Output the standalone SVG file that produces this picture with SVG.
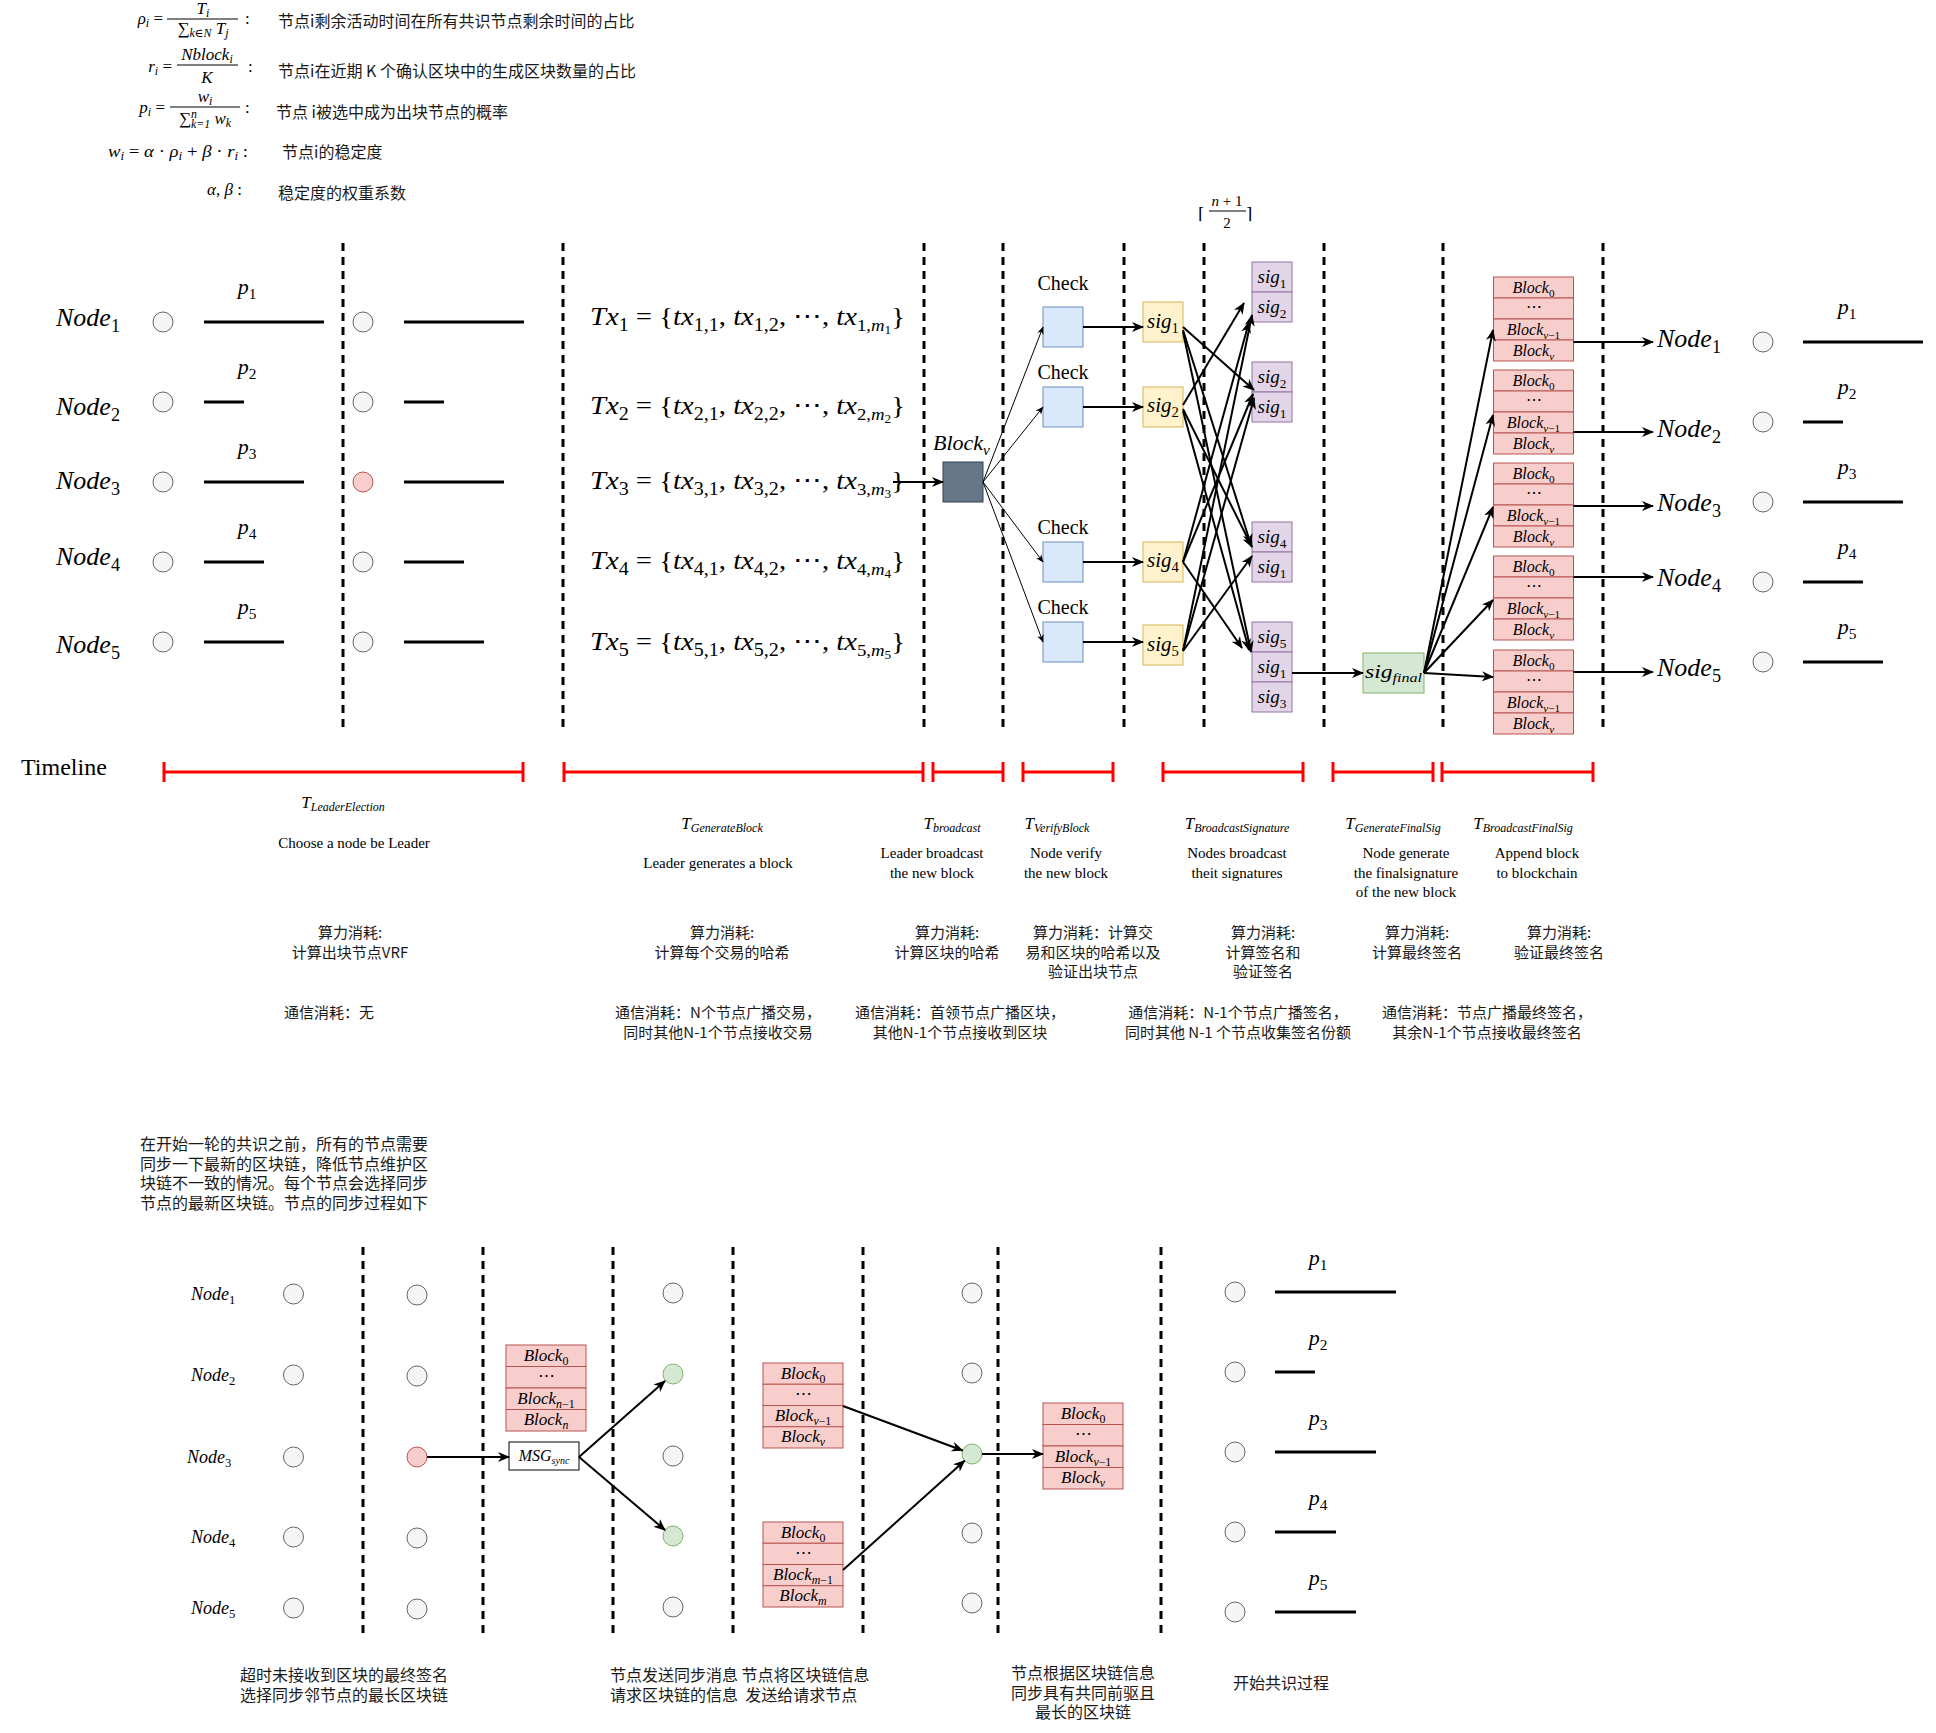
<svg xmlns="http://www.w3.org/2000/svg" width="1936" height="1733" viewBox="0 0 1936 1733">
<defs>
<marker id="ah" viewBox="0 0 12 10" refX="11" refY="5" markerWidth="12" markerHeight="10" markerUnits="userSpaceOnUse" orient="auto"><path d="M0,0 L12,5 L0,10 L3.5,5 Z" fill="#000"/></marker>
<marker id="ah1" viewBox="0 0 12 10" refX="11" refY="5" markerWidth="8" markerHeight="7" markerUnits="userSpaceOnUse" orient="auto"><path d="M0,0 L12,5 L0,10 L3.5,5 Z" fill="#000"/></marker>
<style>
.m{font-family:"Liberation Serif","DejaVu Serif",serif;font-style:italic;fill:#000}
.r{font-family:"Liberation Serif","DejaVu Serif",serif;fill:#000}
.cn{font-family:"Noto Sans CJK SC","Liberation Sans",sans-serif;fill:#1a1a1a}
.u{font-style:normal}
.s{font-size:70%;font-style:normal}
.si{font-size:70%}
.c{text-anchor:middle}
.dash{stroke:#000;stroke-width:3;stroke-dasharray:8 6;fill:none}
.nd{fill:#f5f5f5;stroke:#666;stroke-width:1}
.nr{fill:#f8cecc;stroke:#b85450;stroke-width:1}
.ng{fill:#d5e8d4;stroke:#82b366;stroke-width:1}
.bar{stroke:#000;stroke-width:3}
.blk{fill:#f8cecc;stroke:#b85450;stroke-width:1}
.chk{fill:#dae8fc;stroke:#6c8ebf;stroke-width:1}
.sg{fill:#fff2cc;stroke:#d6b656;stroke-width:1}
.ps{fill:#e1d5e7;stroke:#9673a6;stroke-width:1}
.e2{stroke:#000;stroke-width:2;fill:none;marker-end:url(#ah)}
.e1{stroke:#000;stroke-width:1;fill:none;marker-end:url(#ah1)}
.tl{stroke:#ff0000;stroke-width:3;fill:none}
</style>
</defs>
<rect x="0" y="0" width="1936" height="1733" fill="#fff"/>

<!-- Formulas -->
<g id="formulas" font-size="17">
 <text class="m" x="163" y="24" text-anchor="end">ρ<tspan class="si" dy="3">i</tspan><tspan class="u" dy="-3"> =</tspan></text>
 <text class="m c" x="203" y="14">T<tspan class="si" dy="3">i</tspan></text>
 <line x1="167" y1="19" x2="238" y2="19" stroke="#000" stroke-width="1"/>
 <text class="m c" x="203" y="34"><tspan class="u">∑</tspan><tspan class="si" dy="3">k∈N</tspan><tspan dy="-3"> T</tspan><tspan class="si" dy="3">j</tspan></text>
 <text class="r" x="245" y="24">:</text>
 <text class="cn" x="278" y="27" font-size="16">节点i剩余活动时间在所有共识节点剩余时间的占比</text>

 <text class="m" x="172" y="72" text-anchor="end">r<tspan class="si" dy="3">i</tspan><tspan class="u" dy="-3"> =</tspan></text>
 <text class="m c" x="207" y="60">Nblock<tspan class="si" dy="3">i</tspan></text>
 <line x1="177" y1="65" x2="238" y2="65" stroke="#000" stroke-width="1"/>
 <text class="m c" x="207" y="83">K</text>
 <text class="r" x="248" y="72">:</text>
 <text class="cn" x="278" y="77" font-size="16">节点i在近期 K 个确认区块中的生成区块数量的占比</text>

 <text class="m" x="165" y="113" text-anchor="end">p<tspan class="si" dy="3">i</tspan><tspan class="u" dy="-3"> =</tspan></text>
 <text class="m c" x="205" y="102">w<tspan class="si" dy="3">i</tspan></text>
 <line x1="170" y1="107" x2="240" y2="107" stroke="#000" stroke-width="1"/>
 <text class="m c" x="205" y="124"><tspan class="u">∑</tspan><tspan class="si" dy="-6">n</tspan><tspan class="si" dx="-6" dy="10">k=1</tspan><tspan dy="-4"> w</tspan><tspan class="si" dy="3">k</tspan></text>
 <text class="r" x="245" y="113">:</text>
 <text class="cn" x="276" y="118" font-size="16">节点 i被选中成为出块节点的概率</text>

 <text class="m" x="108" y="157" textLength="140" lengthAdjust="spacingAndGlyphs">w<tspan class="si" dy="3">i</tspan><tspan class="u" dy="-3"> = </tspan>α<tspan class="u"> · </tspan>ρ<tspan class="si" dy="3">i</tspan><tspan class="u" dy="-3"> + </tspan>β<tspan class="u"> · </tspan>r<tspan class="si" dy="3">i</tspan><tspan class="u" dy="-3"> :</tspan></text>
 <text class="cn" x="282" y="158" font-size="16">节点i的稳定度</text>

 <text class="m" x="207" y="195">α<tspan class="u">, </tspan>β<tspan class="u"> :</tspan></text>
 <text class="cn" x="278" y="199" font-size="16">稳定度的权重系数</text>
</g>

<!-- Upper dashed separators -->
<g id="upper-separators">
 <line class="dash" x1="343" y1="243" x2="343" y2="733"/>
 <line class="dash" x1="563" y1="243" x2="563" y2="733"/>
 <line class="dash" x1="924" y1="243" x2="924" y2="733"/>
 <line class="dash" x1="1003" y1="243" x2="1003" y2="733"/>
 <line class="dash" x1="1124" y1="243" x2="1124" y2="733"/>
 <line class="dash" x1="1204" y1="243" x2="1204" y2="733"/>
 <line class="dash" x1="1324" y1="243" x2="1324" y2="733"/>
 <line class="dash" x1="1443" y1="243" x2="1443" y2="733"/>
 <line class="dash" x1="1603" y1="243" x2="1603" y2="733"/>
</g>

<!-- Upper left nodes -->
<g id="upper-node-labels" font-size="26">
 <text class="m" x="56" y="326">Node<tspan class="s" dy="6">1</tspan></text>
 <text class="m" x="56" y="415">Node<tspan class="s" dy="6">2</tspan></text>
 <text class="m" x="56" y="489">Node<tspan class="s" dy="6">3</tspan></text>
 <text class="m" x="56" y="565">Node<tspan class="s" dy="6">4</tspan></text>
 <text class="m" x="56" y="653">Node<tspan class="s" dy="6">5</tspan></text>
</g>
<g id="upper-col1">
 <circle class="nd" cx="163" cy="322" r="10"/>
 <circle class="nd" cx="163" cy="402" r="10"/>
 <circle class="nd" cx="163" cy="482" r="10"/>
 <circle class="nd" cx="163" cy="562" r="10"/>
 <circle class="nd" cx="163" cy="642" r="10"/>
 <line class="bar" x1="204" y1="322" x2="324" y2="322"/>
 <line class="bar" x1="204" y1="402" x2="244" y2="402"/>
 <line class="bar" x1="204" y1="482" x2="304" y2="482"/>
 <line class="bar" x1="204" y1="562" x2="264" y2="562"/>
 <line class="bar" x1="204" y1="642" x2="284" y2="642"/>
 <g font-size="22">
  <text class="m c" x="247" y="294">p<tspan class="s" dy="5">1</tspan></text>
  <text class="m c" x="247" y="374">p<tspan class="s" dy="5">2</tspan></text>
  <text class="m c" x="247" y="454">p<tspan class="s" dy="5">3</tspan></text>
  <text class="m c" x="247" y="534">p<tspan class="s" dy="5">4</tspan></text>
  <text class="m c" x="247" y="614">p<tspan class="s" dy="5">5</tspan></text>
 </g>
</g>
<g id="upper-col2">
 <circle class="nd" cx="363" cy="322" r="10"/>
 <circle class="nd" cx="363" cy="402" r="10"/>
 <circle class="nr" cx="363" cy="482" r="10"/>
 <circle class="nd" cx="363" cy="562" r="10"/>
 <circle class="nd" cx="363" cy="642" r="10"/>
 <line class="bar" x1="404" y1="322" x2="524" y2="322"/>
 <line class="bar" x1="404" y1="402" x2="444" y2="402"/>
 <line class="bar" x1="404" y1="482" x2="504" y2="482"/>
 <line class="bar" x1="404" y1="562" x2="464" y2="562"/>
 <line class="bar" x1="404" y1="642" x2="484" y2="642"/>
</g>

<!-- Transactions -->
<g id="transactions" font-size="26">
 <text class="m" x="590" y="325" textLength="315" lengthAdjust="spacingAndGlyphs">Tx<tspan class="s" dy="6">1</tspan><tspan class="u" dy="-6"> = {</tspan>tx<tspan class="s" dy="6">1,1</tspan><tspan class="u" dy="-6">, </tspan>tx<tspan class="s" dy="6">1,2</tspan><tspan class="u" dy="-6">, ⋯, </tspan>tx<tspan class="u" font-size="17" dy="6">1,</tspan><tspan font-size="17">m</tspan><tspan class="u" font-size="12" dy="3">1</tspan><tspan class="u" dy="-9">}</tspan></text>
 <text class="m" x="590" y="414" textLength="315" lengthAdjust="spacingAndGlyphs">Tx<tspan class="s" dy="6">2</tspan><tspan class="u" dy="-6"> = {</tspan>tx<tspan class="s" dy="6">2,1</tspan><tspan class="u" dy="-6">, </tspan>tx<tspan class="s" dy="6">2,2</tspan><tspan class="u" dy="-6">, ⋯, </tspan>tx<tspan class="u" font-size="17" dy="6">2,</tspan><tspan font-size="17">m</tspan><tspan class="u" font-size="12" dy="3">2</tspan><tspan class="u" dy="-9">}</tspan></text>
 <text class="m" x="590" y="489" textLength="315" lengthAdjust="spacingAndGlyphs">Tx<tspan class="s" dy="6">3</tspan><tspan class="u" dy="-6"> = {</tspan>tx<tspan class="s" dy="6">3,1</tspan><tspan class="u" dy="-6">, </tspan>tx<tspan class="s" dy="6">3,2</tspan><tspan class="u" dy="-6">, ⋯, </tspan>tx<tspan class="u" font-size="17" dy="6">3,</tspan><tspan font-size="17">m</tspan><tspan class="u" font-size="12" dy="3">3</tspan><tspan class="u" dy="-9">}</tspan></text>
 <text class="m" x="590" y="569" textLength="315" lengthAdjust="spacingAndGlyphs">Tx<tspan class="s" dy="6">4</tspan><tspan class="u" dy="-6"> = {</tspan>tx<tspan class="s" dy="6">4,1</tspan><tspan class="u" dy="-6">, </tspan>tx<tspan class="s" dy="6">4,2</tspan><tspan class="u" dy="-6">, ⋯, </tspan>tx<tspan class="u" font-size="17" dy="6">4,</tspan><tspan font-size="17">m</tspan><tspan class="u" font-size="12" dy="3">4</tspan><tspan class="u" dy="-9">}</tspan></text>
 <text class="m" x="590" y="650" textLength="315" lengthAdjust="spacingAndGlyphs">Tx<tspan class="s" dy="6">5</tspan><tspan class="u" dy="-6"> = {</tspan>tx<tspan class="s" dy="6">5,1</tspan><tspan class="u" dy="-6">, </tspan>tx<tspan class="s" dy="6">5,2</tspan><tspan class="u" dy="-6">, ⋯, </tspan>tx<tspan class="u" font-size="17" dy="6">5,</tspan><tspan font-size="17">m</tspan><tspan class="u" font-size="12" dy="3">5</tspan><tspan class="u" dy="-9">}</tspan></text>
</g>

<!-- Block v -->
<g id="block-v">
 <rect x="943" y="462" width="40" height="40" fill="#647687" stroke="#314354" stroke-width="1"/>
 <text class="m" x="933" y="450" font-size="22">Block<tspan class="si" dy="5">v</tspan></text>
</g>

<!-- Check boxes -->
<g id="checks">
 <g font-size="20">
  <text class="r c" x="1063" y="290">Check</text>
  <text class="r c" x="1063" y="379">Check</text>
  <text class="r c" x="1063" y="534">Check</text>
  <text class="r c" x="1063" y="614">Check</text>
 </g>
 <rect class="chk" x="1043" y="307" width="40" height="40"/>
 <rect class="chk" x="1043" y="387" width="40" height="40"/>
 <rect class="chk" x="1043" y="542" width="40" height="40"/>
 <rect class="chk" x="1043" y="622" width="40" height="40"/>
</g>

<!-- Signature boxes -->
<g id="signatures" font-size="21">
 <rect class="sg" x="1143" y="302" width="40" height="40"/>
 <text class="m c" x="1163" y="328">sig<tspan class="s" dy="5">1</tspan></text>
 <rect class="sg" x="1143" y="387" width="40" height="40"/>
 <text class="m c" x="1163" y="412">sig<tspan class="s" dy="5">2</tspan></text>
 <rect class="sg" x="1143" y="542" width="40" height="40"/>
 <text class="m c" x="1163" y="567">sig<tspan class="s" dy="5">4</tspan></text>
 <rect class="sg" x="1143" y="625" width="40" height="40"/>
 <text class="m c" x="1163" y="651">sig<tspan class="s" dy="5">5</tspan></text>
</g>

<!-- Threshold label -->
<g id="threshold">
 <text class="r" x="1198" y="219" font-size="16" font-family="DejaVu Serif">⌈</text>
 <text class="m c" x="1227" y="206" font-size="15">n<tspan class="u"> + 1</tspan></text>
 <line x1="1209" y1="211" x2="1246" y2="211" stroke="#000" stroke-width="1"/>
 <text class="r c" x="1227" y="228" font-size="15">2</text>
 <text class="r" x="1246" y="219" font-size="16" font-family="DejaVu Serif">⌉</text>
</g>

<!-- Collected signature groups -->
<g id="sig-group-1" font-size="19">
 <rect class="ps" x="1252" y="262" width="40" height="30"/>
 <rect class="ps" x="1252" y="292" width="40" height="30"/>
 <text class="m c" x="1272" y="283">sig<tspan class="s" dy="5">1</tspan></text>
 <text class="m c" x="1272" y="313">sig<tspan class="s" dy="5">2</tspan></text>
</g>
<g id="sig-group-2" font-size="19">
 <rect class="ps" x="1252" y="362" width="40" height="30"/>
 <rect class="ps" x="1252" y="392" width="40" height="30"/>
 <text class="m c" x="1272" y="383">sig<tspan class="s" dy="5">2</tspan></text>
 <text class="m c" x="1272" y="413">sig<tspan class="s" dy="5">1</tspan></text>
</g>
<g id="sig-group-4" font-size="19">
 <rect class="ps" x="1252" y="522" width="40" height="30"/>
 <rect class="ps" x="1252" y="552" width="40" height="30"/>
 <text class="m c" x="1272" y="543">sig<tspan class="s" dy="5">4</tspan></text>
 <text class="m c" x="1272" y="573">sig<tspan class="s" dy="5">1</tspan></text>
</g>
<g id="sig-group-5" font-size="19">
 <rect class="ps" x="1252" y="622" width="40" height="30"/>
 <rect class="ps" x="1252" y="652" width="40" height="30"/>
 <rect class="ps" x="1252" y="682" width="40" height="30"/>
 <text class="m c" x="1272" y="643">sig<tspan class="s" dy="5">5</tspan></text>
 <text class="m c" x="1272" y="673">sig<tspan class="s" dy="5">1</tspan></text>
 <text class="m c" x="1272" y="703">sig<tspan class="s" dy="5">3</tspan></text>
</g>

<!-- Final signature -->
<g id="sig-final">
 <rect x="1363" y="653" width="61" height="40" fill="#d5e8d4" stroke="#82b366" stroke-width="1"/>
 <text class="m" x="1365" y="678" font-size="19" textLength="57" lengthAdjust="spacingAndGlyphs">sig<tspan font-size="13" dy="4">final</tspan></text>
</g>

<!-- Blockchain stacks (upper right) -->
<g id="chain-1" font-size="16">
 <rect class="blk" x="1493.5" y="277" width="80" height="21"/><rect class="blk" x="1493.5" y="298" width="80" height="21"/><rect class="blk" x="1493.5" y="319" width="80" height="21"/><rect class="blk" x="1493.5" y="340" width="80" height="21"/>
 <text class="m c" x="1533.5" y="293">Block<tspan class="s" dy="4">0</tspan></text>
 <text class="r c" x="1533.5" y="312">⋯</text>
 <text class="m c" x="1533.5" y="335">Block<tspan class="si" dy="4">v</tspan><tspan class="s">−1</tspan></text>
 <text class="m c" x="1533.5" y="356">Block<tspan class="si" dy="4">v</tspan></text>
</g>
<g id="chain-2" font-size="16">
 <rect class="blk" x="1493.5" y="370" width="80" height="21"/><rect class="blk" x="1493.5" y="391" width="80" height="21"/><rect class="blk" x="1493.5" y="412" width="80" height="21"/><rect class="blk" x="1493.5" y="433" width="80" height="21"/>
 <text class="m c" x="1533.5" y="386">Block<tspan class="s" dy="4">0</tspan></text>
 <text class="r c" x="1533.5" y="405">⋯</text>
 <text class="m c" x="1533.5" y="428">Block<tspan class="si" dy="4">v</tspan><tspan class="s">−1</tspan></text>
 <text class="m c" x="1533.5" y="449">Block<tspan class="si" dy="4">v</tspan></text>
</g>
<g id="chain-3" font-size="16">
 <rect class="blk" x="1493.5" y="463" width="80" height="21"/><rect class="blk" x="1493.5" y="484" width="80" height="21"/><rect class="blk" x="1493.5" y="505" width="80" height="21"/><rect class="blk" x="1493.5" y="526" width="80" height="21"/>
 <text class="m c" x="1533.5" y="479">Block<tspan class="s" dy="4">0</tspan></text>
 <text class="r c" x="1533.5" y="498">⋯</text>
 <text class="m c" x="1533.5" y="521">Block<tspan class="si" dy="4">v</tspan><tspan class="s">−1</tspan></text>
 <text class="m c" x="1533.5" y="542">Block<tspan class="si" dy="4">v</tspan></text>
</g>
<g id="chain-4" font-size="16">
 <rect class="blk" x="1493.5" y="556" width="80" height="21"/><rect class="blk" x="1493.5" y="577" width="80" height="21"/><rect class="blk" x="1493.5" y="598" width="80" height="21"/><rect class="blk" x="1493.5" y="619" width="80" height="21"/>
 <text class="m c" x="1533.5" y="572">Block<tspan class="s" dy="4">0</tspan></text>
 <text class="r c" x="1533.5" y="591">⋯</text>
 <text class="m c" x="1533.5" y="614">Block<tspan class="si" dy="4">v</tspan><tspan class="s">−1</tspan></text>
 <text class="m c" x="1533.5" y="635">Block<tspan class="si" dy="4">v</tspan></text>
</g>
<g id="chain-5" font-size="16">
 <rect class="blk" x="1493.5" y="650" width="80" height="21"/><rect class="blk" x="1493.5" y="671" width="80" height="21"/><rect class="blk" x="1493.5" y="692" width="80" height="21"/><rect class="blk" x="1493.5" y="713" width="80" height="21"/>
 <text class="m c" x="1533.5" y="666">Block<tspan class="s" dy="4">0</tspan></text>
 <text class="r c" x="1533.5" y="685">⋯</text>
 <text class="m c" x="1533.5" y="708">Block<tspan class="si" dy="4">v</tspan><tspan class="s">−1</tspan></text>
 <text class="m c" x="1533.5" y="729">Block<tspan class="si" dy="4">v</tspan></text>
</g>

<!-- Right nodes -->
<g id="right-node-labels" font-size="26">
 <text class="m" x="1657" y="347">Node<tspan class="s" dy="6">1</tspan></text>
 <text class="m" x="1657" y="437">Node<tspan class="s" dy="6">2</tspan></text>
 <text class="m" x="1657" y="511">Node<tspan class="s" dy="6">3</tspan></text>
 <text class="m" x="1657" y="586">Node<tspan class="s" dy="6">4</tspan></text>
 <text class="m" x="1657" y="676">Node<tspan class="s" dy="6">5</tspan></text>
</g>
<g id="right-nodes">
 <circle class="nd" cx="1763" cy="342" r="10"/>
 <circle class="nd" cx="1763" cy="422" r="10"/>
 <circle class="nd" cx="1763" cy="502" r="10"/>
 <circle class="nd" cx="1763" cy="582" r="10"/>
 <circle class="nd" cx="1763" cy="662" r="10"/>
 <line class="bar" x1="1803" y1="342" x2="1923" y2="342"/>
 <line class="bar" x1="1803" y1="422" x2="1843" y2="422"/>
 <line class="bar" x1="1803" y1="502" x2="1903" y2="502"/>
 <line class="bar" x1="1803" y1="582" x2="1863" y2="582"/>
 <line class="bar" x1="1803" y1="662" x2="1883" y2="662"/>
 <g font-size="22">
  <text class="m c" x="1847" y="314">p<tspan class="s" dy="5">1</tspan></text>
  <text class="m c" x="1847" y="394">p<tspan class="s" dy="5">2</tspan></text>
  <text class="m c" x="1847" y="474">p<tspan class="s" dy="5">3</tspan></text>
  <text class="m c" x="1847" y="554">p<tspan class="s" dy="5">4</tspan></text>
  <text class="m c" x="1847" y="634">p<tspan class="s" dy="5">5</tspan></text>
 </g>
</g>

<!-- Timeline -->
<g id="timeline">
 <text class="r" x="21" y="775" font-size="24">Timeline</text>
 <path class="tl" d="M164,772 H523 M164,762 V782 M523,762 V782"/>
 <path class="tl" d="M564,772 H923 M564,762 V782 M923,762 V782"/>
 <path class="tl" d="M933,772 H1003 M933,762 V782 M1003,762 V782"/>
 <path class="tl" d="M1023,772 H1113 M1023,762 V782 M1113,762 V782"/>
 <path class="tl" d="M1163,772 H1303 M1163,762 V782 M1303,762 V782"/>
 <path class="tl" d="M1333,772 H1433 M1333,762 V782 M1433,762 V782"/>
 <path class="tl" d="M1442,772 H1593 M1442,762 V782 M1593,762 V782"/>
</g>

<g id="phase-labels">
 <g font-size="17">
  <text class="m c" x="343" y="808">T<tspan font-size="12" dy="3">LeaderElection</tspan></text>
  <text class="m c" x="722" y="829">T<tspan font-size="12" dy="3">GenerateBlock</tspan></text>
  <text class="m c" x="952" y="829">T<tspan font-size="12" dy="3">broadcast</tspan></text>
  <text class="m c" x="1057" y="829">T<tspan font-size="12" dy="3">VerifyBlock</tspan></text>
  <text class="m c" x="1237" y="829">T<tspan font-size="12" dy="3">BroadcastSignature</tspan></text>
  <text class="m c" x="1393" y="829">T<tspan font-size="12" dy="3">GenerateFinalSig</tspan></text>
  <text class="m c" x="1523" y="829">T<tspan font-size="12" dy="3">BroadcastFinalSig</tspan></text>
 </g>
 <g font-size="15">
  <text class="r c" x="354" y="848">Choose a node be Leader</text>
  <text class="r c" x="718" y="868">Leader generates a block</text>
  <text class="r c" y="858"><tspan x="932">Leader broadcast</tspan><tspan x="932" dy="20">the new block</tspan></text>
  <text class="r c" y="858"><tspan x="1066">Node verify</tspan><tspan x="1066" dy="20">the new block</tspan></text>
  <text class="r c" y="858"><tspan x="1237">Nodes broadcast</tspan><tspan x="1237" dy="20">theit signatures</tspan></text>
  <text class="r c" y="858"><tspan x="1406">Node generate</tspan><tspan x="1406" dy="20">the finalsignature</tspan><tspan x="1406" dy="19">of the new block</tspan></text>
  <text class="r c" y="858"><tspan x="1537">Append block</tspan><tspan x="1537" dy="20">to blockchain</tspan></text>
 </g>
 <g font-size="15">
  <text class="cn c" y="938"><tspan x="350">算力消耗:</tspan><tspan x="350" dy="20">计算出块节点VRF</tspan></text>
  <text class="cn c" y="938"><tspan x="722">算力消耗:</tspan><tspan x="722" dy="20">计算每个交易的哈希</tspan></text>
  <text class="cn c" y="938"><tspan x="947">算力消耗:</tspan><tspan x="947" dy="20">计算区块的哈希</tspan></text>
  <text class="cn c" y="938"><tspan x="1093">算力消耗：计算交</tspan><tspan x="1093" dy="20">易和区块的哈希以及</tspan><tspan x="1093" dy="19">验证出块节点</tspan></text>
  <text class="cn c" y="938"><tspan x="1263">算力消耗:</tspan><tspan x="1263" dy="20">计算签名和</tspan><tspan x="1263" dy="19">验证签名</tspan></text>
  <text class="cn c" y="938"><tspan x="1417">算力消耗:</tspan><tspan x="1417" dy="20">计算最终签名</tspan></text>
  <text class="cn c" y="938"><tspan x="1559">算力消耗:</tspan><tspan x="1559" dy="20">验证最终签名</tspan></text>

  <text class="cn c" x="329" y="1018">通信消耗：无</text>
  <text class="cn c" y="1018"><tspan x="718">通信消耗：N个节点广播交易，</tspan><tspan x="718" dy="20">同时其他N-1个节点接收交易</tspan></text>
  <text class="cn c" y="1018"><tspan x="960">通信消耗：首领节点广播区块，</tspan><tspan x="960" dy="20">其他N-1个节点接收到区块</tspan></text>
  <text class="cn c" y="1018"><tspan x="1238">通信消耗：N-1个节点广播签名，</tspan><tspan x="1238" dy="20">同时其他 N-1 个节点收集签名份额</tspan></text>
  <text class="cn c" y="1018"><tspan x="1487">通信消耗：节点广播最终签名，</tspan><tspan x="1487" dy="20">其余N-1个节点接收最终签名</tspan></text>
 </g>
</g>

<!-- Bottom: sync process -->
<g id="sync-intro" font-size="16">
 <text class="cn" y="1150"><tspan x="140">在开始一轮的共识之前，所有的节点需要</tspan><tspan x="140" dy="19.5">同步一下最新的区块链，降低节点维护区</tspan><tspan x="140" dy="19.5">块链不一致的情况。每个节点会选择同步</tspan><tspan x="140" dy="19.5">节点的最新区块链。节点的同步过程如下</tspan></text>
</g>

<g id="lower-separators">
 <line class="dash" x1="363" y1="1247" x2="363" y2="1636"/>
 <line class="dash" x1="483" y1="1247" x2="483" y2="1636"/>
 <line class="dash" x1="613" y1="1247" x2="613" y2="1636"/>
 <line class="dash" x1="733" y1="1247" x2="733" y2="1636"/>
 <line class="dash" x1="863" y1="1247" x2="863" y2="1636"/>
 <line class="dash" x1="998" y1="1247" x2="998" y2="1636"/>
 <line class="dash" x1="1161" y1="1247" x2="1161" y2="1636"/>
</g>

<g id="lower-node-labels" font-size="18">
 <text class="m" x="191" y="1300">Node<tspan class="s" dy="4">1</tspan></text>
 <text class="m" x="191" y="1381">Node<tspan class="s" dy="4">2</tspan></text>
 <text class="m" x="187" y="1463">Node<tspan class="s" dy="4">3</tspan></text>
 <text class="m" x="191" y="1543">Node<tspan class="s" dy="4">4</tspan></text>
 <text class="m" x="191" y="1614">Node<tspan class="s" dy="4">5</tspan></text>
</g>
<g id="lower-col1">
 <circle class="nd" cx="293.5" cy="1294" r="10"/>
 <circle class="nd" cx="293.5" cy="1375" r="10"/>
 <circle class="nd" cx="293.5" cy="1457" r="10"/>
 <circle class="nd" cx="293.5" cy="1537" r="10"/>
 <circle class="nd" cx="293.5" cy="1608" r="10"/>
</g>
<g id="lower-col2">
 <circle class="nd" cx="417" cy="1295" r="10"/>
 <circle class="nd" cx="417" cy="1376" r="10"/>
 <circle class="nr" cx="417" cy="1457" r="10"/>
 <circle class="nd" cx="417" cy="1538" r="10"/>
 <circle class="nd" cx="417" cy="1609" r="10"/>
</g>
<g id="sync-request-chain" font-size="17">
 <rect class="blk" x="506" y="1345" width="80" height="21.5"/><rect class="blk" x="506" y="1366.5" width="80" height="21.5"/><rect class="blk" x="506" y="1388" width="80" height="21.5"/><rect class="blk" x="506" y="1409.5" width="80" height="21.5"/>
 <text class="m c" x="546" y="1361">Block<tspan class="s" dy="4">0</tspan></text>
 <text class="r c" x="546" y="1381">⋯</text>
 <text class="m c" x="546" y="1404">Block<tspan class="si" dy="4">n</tspan><tspan class="s">−1</tspan></text>
 <text class="m c" x="546" y="1425">Block<tspan class="si" dy="4">n</tspan></text>
</g>
<g id="msg-sync">
 <rect x="509" y="1442" width="70" height="28" fill="#fff" stroke="#000" stroke-width="1"/>
 <text class="m c" x="544" y="1461" font-size="16">MSG<tspan font-size="10" dy="3">sync</tspan></text>
</g>
<g id="lower-col3">
 <circle class="nd" cx="673" cy="1293" r="10"/>
 <circle class="ng" cx="673" cy="1374" r="10"/>
 <circle class="nd" cx="673" cy="1456" r="10"/>
 <circle class="ng" cx="673" cy="1536" r="10"/>
 <circle class="nd" cx="673" cy="1607" r="10"/>
</g>
<g id="reply-chain-a" font-size="17">
 <rect class="blk" x="763" y="1363" width="80" height="21.25"/><rect class="blk" x="763" y="1384.25" width="80" height="21.25"/><rect class="blk" x="763" y="1405.5" width="80" height="21.25"/><rect class="blk" x="763" y="1426.75" width="80" height="21.25"/>
 <text class="m c" x="803" y="1379">Block<tspan class="s" dy="4">0</tspan></text>
 <text class="r c" x="803" y="1399">⋯</text>
 <text class="m c" x="803" y="1421">Block<tspan class="si" dy="4">v</tspan><tspan class="s">−1</tspan></text>
 <text class="m c" x="803" y="1442">Block<tspan class="si" dy="4">v</tspan></text>
</g>
<g id="reply-chain-b" font-size="17">
 <rect class="blk" x="763" y="1522" width="80" height="21.25"/><rect class="blk" x="763" y="1543.25" width="80" height="21.25"/><rect class="blk" x="763" y="1564.5" width="80" height="21.25"/><rect class="blk" x="763" y="1585.75" width="80" height="21.25"/>
 <text class="m c" x="803" y="1538">Block<tspan class="s" dy="4">0</tspan></text>
 <text class="r c" x="803" y="1558">⋯</text>
 <text class="m c" x="803" y="1580">Block<tspan class="si" dy="4">m</tspan><tspan class="s">−1</tspan></text>
 <text class="m c" x="803" y="1601">Block<tspan class="si" dy="4">m</tspan></text>
</g>
<g id="lower-col4">
 <circle class="nd" cx="972" cy="1293" r="10"/>
 <circle class="nd" cx="972" cy="1373" r="10"/>
 <circle class="ng" cx="972" cy="1454" r="10"/>
 <circle class="nd" cx="972" cy="1533" r="10"/>
 <circle class="nd" cx="972" cy="1603" r="10"/>
</g>
<g id="synced-chain" font-size="17">
 <rect class="blk" x="1043" y="1403" width="80" height="21.5"/><rect class="blk" x="1043" y="1424.5" width="80" height="21.5"/><rect class="blk" x="1043" y="1446" width="80" height="21.5"/><rect class="blk" x="1043" y="1467.5" width="80" height="21.5"/>
 <text class="m c" x="1083" y="1419">Block<tspan class="s" dy="4">0</tspan></text>
 <text class="r c" x="1083" y="1439">⋯</text>
 <text class="m c" x="1083" y="1462">Block<tspan class="si" dy="4">v</tspan><tspan class="s">−1</tspan></text>
 <text class="m c" x="1083" y="1483">Block<tspan class="si" dy="4">v</tspan></text>
</g>
<g id="lower-col5">
 <circle class="nd" cx="1235" cy="1292" r="10"/>
 <circle class="nd" cx="1235" cy="1372" r="10"/>
 <circle class="nd" cx="1235" cy="1452" r="10"/>
 <circle class="nd" cx="1235" cy="1532" r="10"/>
 <circle class="nd" cx="1235" cy="1612" r="10"/>
 <line class="bar" x1="1275" y1="1292" x2="1396" y2="1292"/>
 <line class="bar" x1="1275" y1="1372" x2="1315" y2="1372"/>
 <line class="bar" x1="1275" y1="1452" x2="1376" y2="1452"/>
 <line class="bar" x1="1275" y1="1532" x2="1336" y2="1532"/>
 <line class="bar" x1="1275" y1="1612" x2="1356" y2="1612"/>
 <g font-size="22">
  <text class="m c" x="1318" y="1265">p<tspan class="s" dy="5">1</tspan></text>
  <text class="m c" x="1318" y="1345">p<tspan class="s" dy="5">2</tspan></text>
  <text class="m c" x="1318" y="1425">p<tspan class="s" dy="5">3</tspan></text>
  <text class="m c" x="1318" y="1505">p<tspan class="s" dy="5">4</tspan></text>
  <text class="m c" x="1318" y="1585">p<tspan class="s" dy="5">5</tspan></text>
 </g>
</g>
<g id="lower-captions" font-size="16">
 <text class="cn" y="1681"><tspan x="240">超时未接收到区块的最终签名</tspan><tspan x="240" dy="20">选择同步邻节点的最长区块链</tspan></text>
 <text class="cn" y="1681" xml:space="preserve"><tspan x="610">节点发送同步消息 节点将区块链信息</tspan><tspan x="610" dy="20">请求区块链的信息  发送给请求节点</tspan></text>
 <text class="cn c" y="1679"><tspan x="1083">节点根据区块链信息</tspan><tspan x="1083" dy="20">同步具有共同前驱且</tspan><tspan x="1083" dy="19">最长的区块链</tspan></text>
 <text class="cn" x="1233" y="1689">开始共识过程</text>
</g>

<!-- Connectors -->
<g id="connectors">
 <line class="e2" x1="893" y1="482" x2="943" y2="482"/>
 <line class="e1" x1="983" y1="482" x2="1043" y2="327"/>
 <line class="e1" x1="983" y1="482" x2="1043" y2="407"/>
 <line class="e1" x1="983" y1="482" x2="1043" y2="562"/>
 <line class="e1" x1="983" y1="482" x2="1043" y2="642"/>
 <line class="e2" x1="1083" y1="327" x2="1143" y2="327"/>
 <line class="e2" x1="1083" y1="407" x2="1143" y2="407"/>
 <line class="e2" x1="1083" y1="562" x2="1143" y2="562"/>
 <line class="e2" x1="1083" y1="642" x2="1143" y2="642"/>
 <line class="e2" x1="1183" y1="327" x2="1254" y2="390"/>
 <line class="e2" x1="1183" y1="330" x2="1251" y2="545"/>
 <line class="e2" x1="1183" y1="332" x2="1251" y2="652"/>
 <line class="e2" x1="1183" y1="405" x2="1244" y2="303"/>
 <line class="e2" x1="1183" y1="409" x2="1252" y2="547"/>
 <line class="e2" x1="1183" y1="411" x2="1249" y2="650"/>
 <line class="e2" x1="1183" y1="562" x2="1249" y2="322"/>
 <line class="e2" x1="1183" y1="562" x2="1253" y2="394"/>
 <line class="e2" x1="1183" y1="562" x2="1242" y2="648"/>
 <line class="e2" x1="1183" y1="651" x2="1252" y2="315"/>
 <line class="e2" x1="1183" y1="651" x2="1254" y2="398"/>
 <line class="e2" x1="1183" y1="651" x2="1252" y2="556"/>
 <line class="e2" x1="1292" y1="673" x2="1363" y2="673"/>
 <line class="e2" x1="1424" y1="673" x2="1493" y2="330"/>
 <line class="e2" x1="1424" y1="673" x2="1493" y2="415"/>
 <line class="e2" x1="1424" y1="673" x2="1493" y2="507"/>
 <line class="e2" x1="1424" y1="673" x2="1493" y2="600"/>
 <line class="e2" x1="1424" y1="673" x2="1493" y2="677"/>
 <line class="e2" x1="1573.5" y1="342" x2="1653" y2="342"/>
 <line class="e2" x1="1573.5" y1="432" x2="1653" y2="432"/>
 <line class="e2" x1="1573.5" y1="506" x2="1653" y2="506"/>
 <line class="e2" x1="1573.5" y1="577" x2="1653" y2="577"/>
 <line class="e2" x1="1573.5" y1="672" x2="1653" y2="672"/>
 <line class="e2" x1="427" y1="1457" x2="509" y2="1457"/>
 <line class="e2" x1="579" y1="1457" x2="665" y2="1381"/>
 <line class="e2" x1="579" y1="1457" x2="665" y2="1530"/>
 <line class="e2" x1="843" y1="1406" x2="962.6" y2="1450.5"/>
 <line class="e2" x1="843" y1="1570" x2="964.6" y2="1460.7"/>
 <line class="e2" x1="982" y1="1454" x2="1043" y2="1454"/>
</g>
</svg>
